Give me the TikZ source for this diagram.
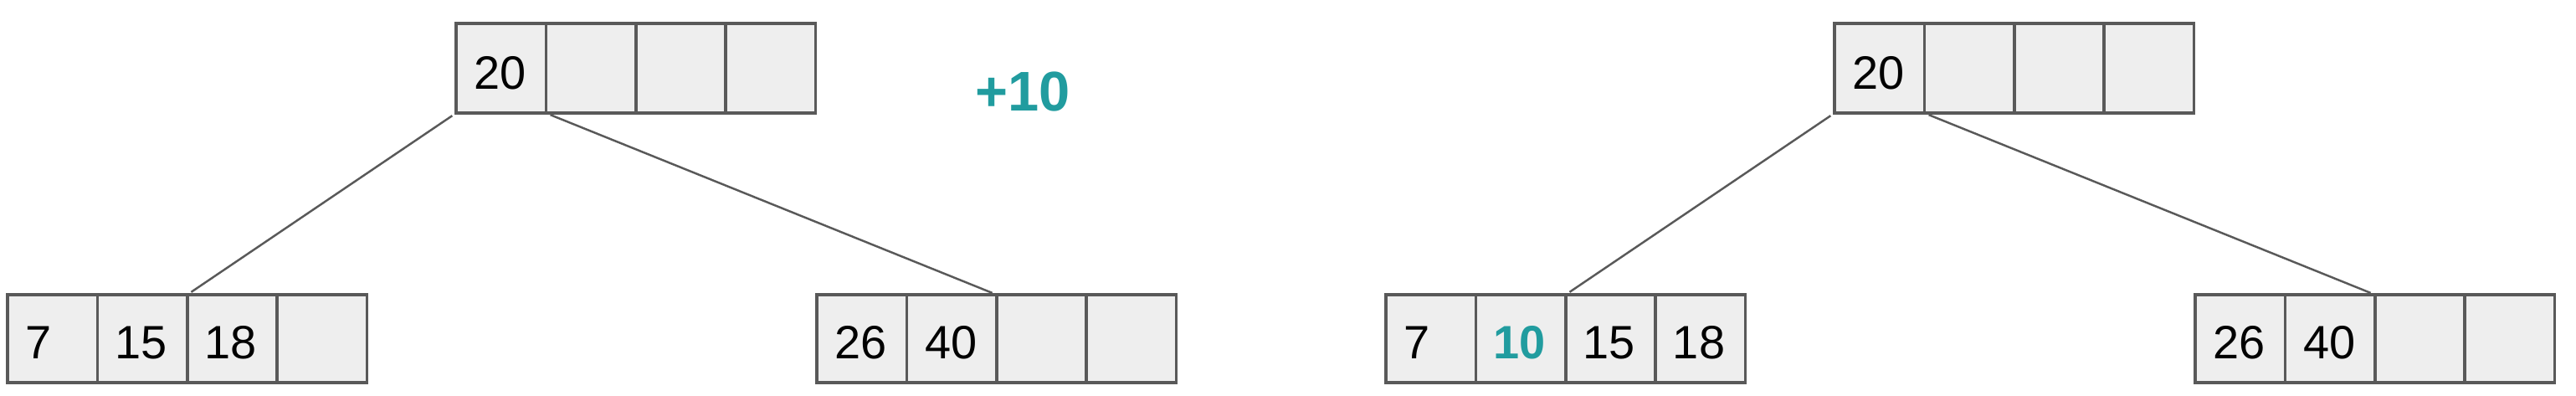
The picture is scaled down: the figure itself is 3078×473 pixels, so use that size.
\documentclass[tikz,border=0pt]{standalone}
\usepackage{fontspec}
\setmainfont{Liberation Sans}
\usetikzlibrary{calc}
\definecolor{bord}{HTML}{595959}
\definecolor{cellfill}{HTML}{EEEEEE}
\definecolor{teal}{HTML}{219C9F}
\newcommand\keyrow[4]{% name, left x, top y, height
  \foreach \i/\s in {0/a,1/b,2/c,3/d}
    \node[cell, minimum height=#4] (#1\s) at ({#2+\i*107.4},#3) {};}
\begin{document}
\begin{tikzpicture}[x=0.01cm,y=-0.01cm,
  cell/.style={draw=bord, fill=cellfill, line width=1pt, minimum width=1.074cm,
    inner sep=0pt, outer sep=0pt, anchor=north west},
  val/.style={anchor=base west, inner sep=0pt, font=\fontsize{15.9}{19}\selectfont},
  newval/.style={val, text=teal, font=\fontsize{15.9}{19}\selectfont\bfseries},
  plus/.style={anchor=base west, inner sep=0pt, text=teal, font=\fontsize{19}{23}\selectfont\bfseries},
  edge/.style={draw=bord, line width=0.7pt, shorten <=1.6pt, shorten >=1.6pt}]
\useasboundingbox (0,0) rectangle (3078,473);
% left tree
\keyrow{RA}{545}{28}{1.07cm}
\keyrow{LA}{9}{352}{1.05cm}
\keyrow{MA}{976}{352}{1.05cm}
\node[val] at ($(RAa.north west)+(21,79)$) {20};
\node[val] at ($(LAa.north west)+(21,77)$) {7};
\node[val] at ($(LAb.north west)+(20,77)$) {15};
\node[val] at ($(LAc.north west)+(20,77)$) {18};
\node[val] at ($(MAa.north west)+(21,77)$) {26};
\node[val] at ($(MAb.north west)+(21,77)$) {40};
\draw[edge] (RAa.south west) -- (LAc.north west);
\draw[edge] (RAb.south west) -- (MAc.north west);
% insertion label
\node[plus] (ins) at (1165,133) {+10};
% right tree
\keyrow{RB}{2192}{28}{1.07cm}
\keyrow{LB}{1656}{352}{1.05cm}
\keyrow{MB}{2623}{352}{1.05cm}
\node[val] at ($(RBa.north west)+(21,79)$) {20};
\node[val] at ($(LBa.north west)+(21,77)$) {7};
\node[newval] at ($(LBb.north west)+(20,77)$) {10};
\node[val] at ($(LBc.north west)+(20,77)$) {15};
\node[val] at ($(LBd.north west)+(20,77)$) {18};
\node[val] at ($(MBa.north west)+(21,77)$) {26};
\node[val] at ($(MBb.north west)+(21,77)$) {40};
\draw[edge] (RBa.south west) -- (LBc.north west);
\draw[edge] (RBb.south west) -- (MBc.north west);
\end{tikzpicture}
\end{document}
